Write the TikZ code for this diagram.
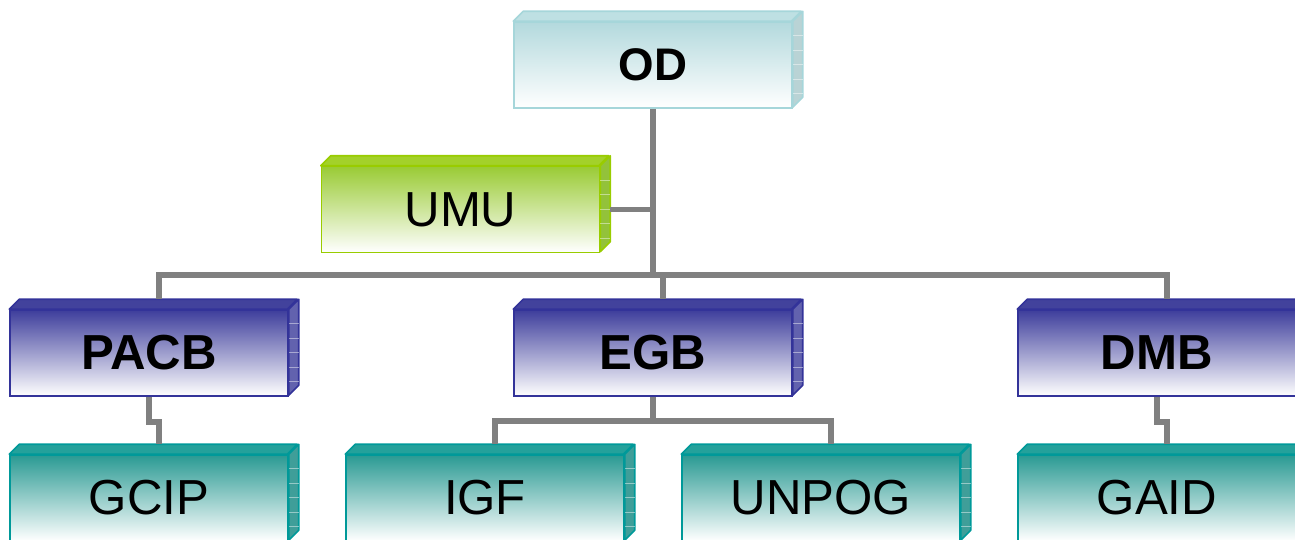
\documentclass[tikz,border=0pt]{standalone}
\usepackage{fontspec}
\setmainfont{Liberation Sans}
\definecolor{topod}{HTML}{B3D9DD}
\definecolor{faceod}{HTML}{BEE0E3}
\definecolor{sideod}{HTML}{B9D3D5}
\definecolor{lineod}{HTML}{A6D6DA}
\definecolor{topumu}{HTML}{9ACB35}
\definecolor{faceumu}{HTML}{A3D12A}
\definecolor{sideumu}{HTML}{93C23A}
\definecolor{lineumu}{HTML}{99CC00}
\definecolor{topbr}{HTML}{3E3E9C}
\definecolor{facebr}{HTML}{42429C}
\definecolor{sidebr}{HTML}{6262AE}
\definecolor{linebr}{HTML}{333399}
\definecolor{toplf}{HTML}{2A9A93}
\definecolor{facelf}{HTML}{24A19B}
\definecolor{sidelf}{HTML}{3F9E99}
\definecolor{linelf}{HTML}{009999}
\tikzset{
  unit/.style={draw, rectangle, minimum width=5.56cm, minimum height=1.72cm,
    inner sep=0pt, line width=0.9pt, font=\fontsize{28}{30}\selectfont},
  odbox/.style={unit, draw=lineod, top color=topod, bottom color=white,
    font=\fontsize{26}{28}\selectfont\bfseries},
  umubox/.style={unit, draw=lineumu, top color=topumu, bottom color=white},
  branch/.style={unit, draw=linebr, top color=topbr, bottom color=white,
    font=\fontsize{28}{30}\selectfont\bfseries},
  leaf/.style={unit, draw=linelf, top color=toplf, bottom color=white},
  link/.style={draw=black!50, line width=3.3pt}
}
\begin{document}
\begin{tikzpicture}[x=0.02cm,y=-0.02cm]
\useasboundingbox (0,0) rectangle (1295,539);
\node[odbox] (OD) at (653,65) {OD};
\node[umubox] (UMU) at (460.5,209.5) {UMU};
\node[branch] (PACB) at (149,353) {PACB};
\node[branch] (EGB) at (653,353) {EGB};
\node[branch] (DMB) at (1157,353) {DMB};
\node[leaf] (GCIP) at (149,498) {GCIP};
\node[leaf] (IGF) at (485,498) {IGF};
\node[leaf] (UNPOG) at (821,498) {UNPOG};
\node[leaf] (GAID) at (1157,498) {GAID};
% top and side faces
\foreach \name/\kind in {OD/od, UMU/umu, PACB/br, EGB/br, DMB/br, GCIP/lf, IGF/lf, UNPOG/lf, GAID/lf} {
  \filldraw[fill=face\kind, draw=line\kind, line width=0.9pt, line join=round]
    (\name.north west) -- ++(10,-10) -- ++(278,0) -- ++(-10,10) -- cycle;
  \filldraw[fill=side\kind, draw=line\kind, line width=0.9pt, line join=round]
    (\name.north east) -- ++(10,-10) -- ++(0,86) -- ++(-10,10) -- cycle;
  \foreach \k in {1,...,5}
    \draw[white, opacity=0.45, thin] ([yshift=-\k*0.29cm]\name.north east) -- ++(10,0);
  \coordinate (\name-top) at ([xshift=0.2cm,yshift=0.2cm]\name.north);
}
\coordinate (hub) at (653,275);
\coordinate (UMU-r) at ([xshift=0.2cm]UMU.east);
\path[link] (OD) -- (hub);
\path[link] (PACB-top) |- (hub) -| (DMB-top);
\path[link] (EGB-top) -- (EGB-top |- hub);
\path[link] (UMU-r) -- (UMU-r -| hub);
\path[link] (PACB.south) -- ++(0,25) -| (GCIP-top);
\path[link] (DMB.south) -- ++(0,25) -| (GAID-top);
\path[link] (EGB.south) -- ++(0,24) coordinate (split);
\path[link] (IGF-top) |- (split) -| (UNPOG-top);
\end{tikzpicture}
\end{document}
